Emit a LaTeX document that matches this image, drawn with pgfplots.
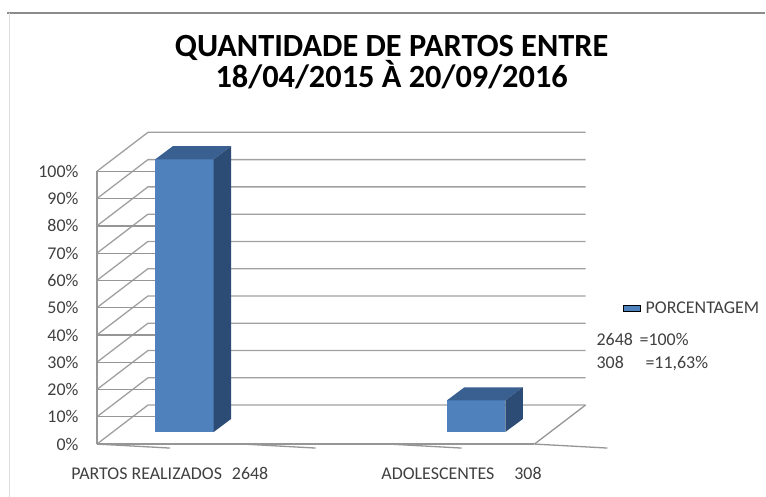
\documentclass[border=0pt]{standalone}
\usepackage{pgfplots}
\pgfplotsset{compat=1.18}
\usepackage{fontspec}
\setmainfont{Carlito}
\definecolor{barfront}{RGB}{79,129,189}
\definecolor{bartop}{RGB}{58,96,146}
\definecolor{barside}{RGB}{44,76,118}
\definecolor{gridc}{RGB}{160,160,160}
\definecolor{axc}{RGB}{150,150,150}
\definecolor{txt}{RGB}{64,64,64}
\begin{document}
\begin{tikzpicture}
\fill[white] (0,0) rectangle (766bp,497bp);
\draw[line width=1.5bp, color={rgb,255:red,140;green,140;blue,140}] (7bp,484bp) -- (766bp,484bp);
\draw[line width=0.8bp, color={rgb,255:red,220;green,220;blue,220}] (9bp,484bp) -- (9bp,0bp);
\node[anchor=base, font=\fontsize{32.5}{38}\selectfont\bfseries] at (392bp,440bp) {QUANTIDADE DE PARTOS ENTRE};
\node[anchor=base, font=\fontsize{32.5}{38}\selectfont\bfseries] at (392bp,409bp) {18/04/2015 À 20/09/2016};
\begin{axis}[
  at={(97bp,52.5bp)}, anchor=south west,
  x=146bp, y=2.73bp,
  xmin=-0.5, xmax=2.85, ymin=0, ymax=114.3,
  axis line style={draw=none},
  tick style={draw=none},
  ytick={0,10,...,100},
  yticklabel={\pgfmathprintnumber{\tick}\%},
  xtick={0,2},
  xticklabels={PARTOS REALIZADOS\hspace{10bp}2648, ADOLESCENTES\hspace{20bp}308},
  /pgf/number format/assume math mode=true,
  ticklabel style={font=\fontsize{18}{21}\selectfont, text=txt},
  yticklabel style={xshift=-15bp},
  xticklabel style={anchor=base, yshift=-35bp},
  clip=false,
  legend style={draw=none, fill=none, at={(axis description cs:1.077,0.435)}, anchor=west,
    font=\fontsize{18}{21}\selectfont, text=txt, inner sep=0pt},
  legend image code/.code={\fill[#1] (0bp,-5bp) rectangle (11bp,5bp);},
]
% side wall / back wall gridlines
\pgfplotsinvokeforeach{0,10,...,100}{
  \draw[gridc, line width=1.3bp] (axis cs:-0.5,#1) -- ++(axis direction cs:0.35,14.3) -- ++(axis direction cs:3.0,0);
}
% floor front edge (two segments)
\draw[axc, line width=1.6bp] (axis cs:-0.5,0) -- (axis cs:1.0,0);
\draw[axc, line width=1.6bp] (axis cs:0.9,0) -- (axis cs:2.5,0);
\draw[axc, line width=1.3bp] (axis cs:2.5,0) -- (axis cs:2.85,14.3);
\draw[axc, line width=1.3bp] (axis cs:-0.5,0) -- (axis cs:-0.5,100);
\pgfplotsinvokeforeach{0,10,...,100}{
  \draw[axc, line width=1.3bp] (axis cs:-0.5,#1) -- ++(-4bp,0);
}
\pgfplotsinvokeforeach{-0.5,0.5,1.5,2.5}{
  \draw[axc, line width=1.3bp] (axis cs:#1,0) -- ++(0,-4bp);
}
% bar 1: PARTOS REALIZADOS 2648 = 100%
\addplot[fill=barfront, draw=none, area legend] coordinates {(-0.10,4.4) (0.30,4.4) (0.30,104.4) (-0.10,104.4)};
\addlegendentry{\hspace{3bp}PORCENTAGEM}
\addplot[fill=bartop, draw=none, forget plot] coordinates {(-0.10,104.4) (0.30,104.4) (0.42,109.2) (0.02,109.2)};
\addplot[fill=barside, draw=none, forget plot] coordinates {(0.30,4.4) (0.42,9.2) (0.42,109.2) (0.30,104.4)};
% bar 2: ADOLESCENTES 308 = 11.63%
\addplot[fill=barfront, draw=none, forget plot] coordinates {(1.90,4.4) (2.30,4.4) (2.30,16.03) (1.90,16.03)};
\addplot[fill=bartop, draw=none, forget plot] coordinates {(1.90,16.03) (2.30,16.03) (2.42,20.83) (2.02,20.83)};
\addplot[fill=barside, draw=none, forget plot] coordinates {(2.30,4.4) (2.42,9.2) (2.42,20.83) (2.30,16.03)};
\end{axis}
\begin{scope}[font=\fontsize{18}{21}\selectfont, text=txt]
\node[anchor=base west, inner sep=0pt] at (597bp,151bp) {2648};
\node[anchor=base west, inner sep=0pt] at (640bp,151bp) {=100\%};
\node[anchor=base west, inner sep=0pt] at (597bp,128bp) {308};
\node[anchor=base west, inner sep=0pt] at (646bp,128bp) {=11,63\%};
\end{scope}
\end{tikzpicture}
\end{document}
